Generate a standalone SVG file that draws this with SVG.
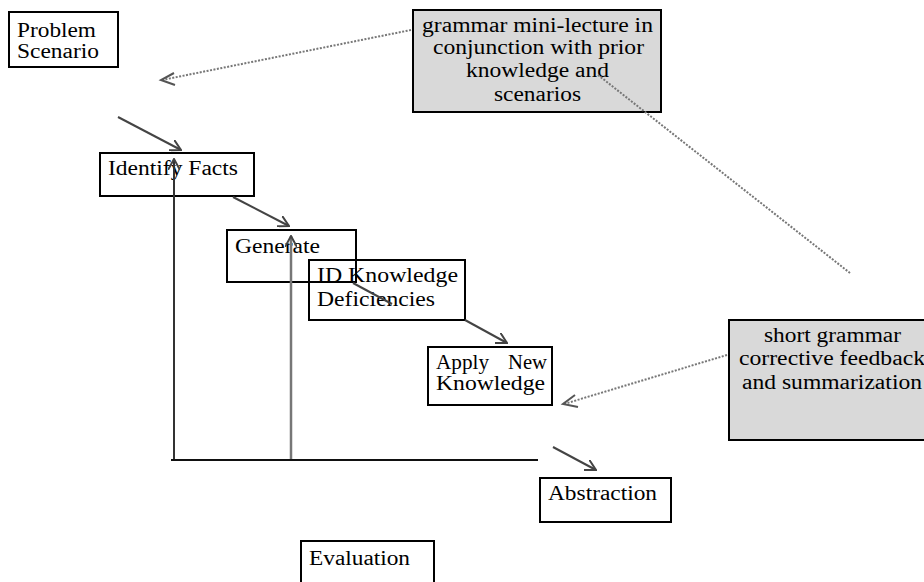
<svg xmlns="http://www.w3.org/2000/svg" width="924" height="582" viewBox="0 0 924 582">
<style>
.box{fill:#fff;stroke:#000;stroke-width:2}
.gbox{fill:#d9d9d9;stroke:#000;stroke-width:2}
text{font-family:"Liberation Serif","Times New Roman",serif;font-size:20px;fill:#000}
.arr{stroke:#444;stroke-width:2;fill:none}
.dot{stroke:#777;stroke-width:2;stroke-dasharray:2 1.5;fill:none}
</style>
<defs>
<marker id="oh" viewBox="0 0 12 12" refX="11" refY="6" markerWidth="12" markerHeight="12" markerUnits="userSpaceOnUse" orient="auto">
<path d="M0,0 L11,6 L0,12" fill="none" stroke="#444" stroke-width="2"/>
</marker>
</defs>
<g id="n-problem"><rect class="box" x="9" y="12" width="109" height="55"/><text x="17" y="37" textLength="79" lengthAdjust="spacingAndGlyphs">Problem</text><text x="17" y="58" textLength="82" lengthAdjust="spacingAndGlyphs">Scenario</text></g>
<g id="n-grammar"><rect class="gbox" x="413" y="10" width="248" height="102"/><text x="422" y="32" textLength="231" lengthAdjust="spacingAndGlyphs">grammar mini-lecture in</text><text x="433" y="54" textLength="211" lengthAdjust="spacingAndGlyphs">conjunction with prior</text><text x="466" y="77" textLength="143" lengthAdjust="spacingAndGlyphs">knowledge and</text><text x="494" y="101" textLength="87" lengthAdjust="spacingAndGlyphs">scenarios</text></g>
<g id="n-identify"><rect class="box" x="100" y="153" width="154" height="43"/><text x="108" y="175" textLength="130" lengthAdjust="spacingAndGlyphs">Identify Facts</text></g>
<g id="n-generate"><rect x="227" y="230" width="129" height="52" fill="none" stroke="#000" stroke-width="2"/><text x="235" y="253" textLength="85" lengthAdjust="spacingAndGlyphs">Generate</text></g>
<g id="n-idk"><rect x="309" y="260" width="156" height="60" fill="none" stroke="#000" stroke-width="2"/><text x="317" y="282" textLength="141" lengthAdjust="spacingAndGlyphs">ID Knowledge</text><text x="317" y="306" textLength="118" lengthAdjust="spacingAndGlyphs">Deficiencies</text></g>
<g id="n-apply"><rect class="box" x="428" y="347" width="124" height="58"/><text x="436" y="369" textLength="53" lengthAdjust="spacingAndGlyphs">Apply</text><text x="508" y="369" textLength="39" lengthAdjust="spacingAndGlyphs">New</text><text x="436" y="390" textLength="109" lengthAdjust="spacingAndGlyphs">Knowledge</text></g>
<g id="n-short"><rect class="gbox" x="729" y="320" width="200" height="120"/><text x="764" y="342" textLength="137" lengthAdjust="spacingAndGlyphs">short grammar</text><text x="739" y="365" textLength="186" lengthAdjust="spacingAndGlyphs">corrective feedback</text><text x="742" y="389" textLength="180" lengthAdjust="spacingAndGlyphs">and summarization</text></g>
<g id="n-abstraction"><rect class="box" x="540" y="478" width="131" height="44"/><text x="548" y="500" textLength="109" lengthAdjust="spacingAndGlyphs">Abstraction</text></g>
<g id="n-evaluation"><rect class="box" x="301" y="541" width="133" height="45"/><text x="309" y="565" textLength="101" lengthAdjust="spacingAndGlyphs">Evaluation</text></g>
<g id="connectors">
<line class="dot" x1="411" y1="30" x2="162" y2="80"/>
<path d="M174,73 L161,80 L175,85" fill="none" stroke="#555" stroke-width="2"/>
<line class="dot" x1="598" y1="75" x2="850" y2="273"/>
<line class="dot" x1="727" y1="355" x2="564" y2="404"/>
<path d="M575,395 L563,404 L578,407" fill="none" stroke="#555" stroke-width="2"/>
<line class="arr" x1="118" y1="117" x2="181" y2="150" marker-end="url(#oh)"/>
<line class="arr" x1="233" y1="197" x2="289" y2="226" marker-end="url(#oh)"/>
<line class="arr" x1="353" y1="283" x2="392" y2="304"/>
<line class="arr" x1="465" y1="320" x2="507" y2="343" marker-end="url(#oh)"/>
<line class="arr" x1="553" y1="447" x2="596" y2="470" marker-end="url(#oh)"/>
<line x1="174" y1="460" x2="174" y2="159" stroke="#333" stroke-width="2" marker-end="url(#oh)"/>
<line x1="291" y1="460" x2="291" y2="236" stroke="#777" stroke-width="2.5" marker-end="url(#oh)"/>
<line x1="171" y1="460" x2="538" y2="460" stroke="#111" stroke-width="2"/>
</g>
</svg>
